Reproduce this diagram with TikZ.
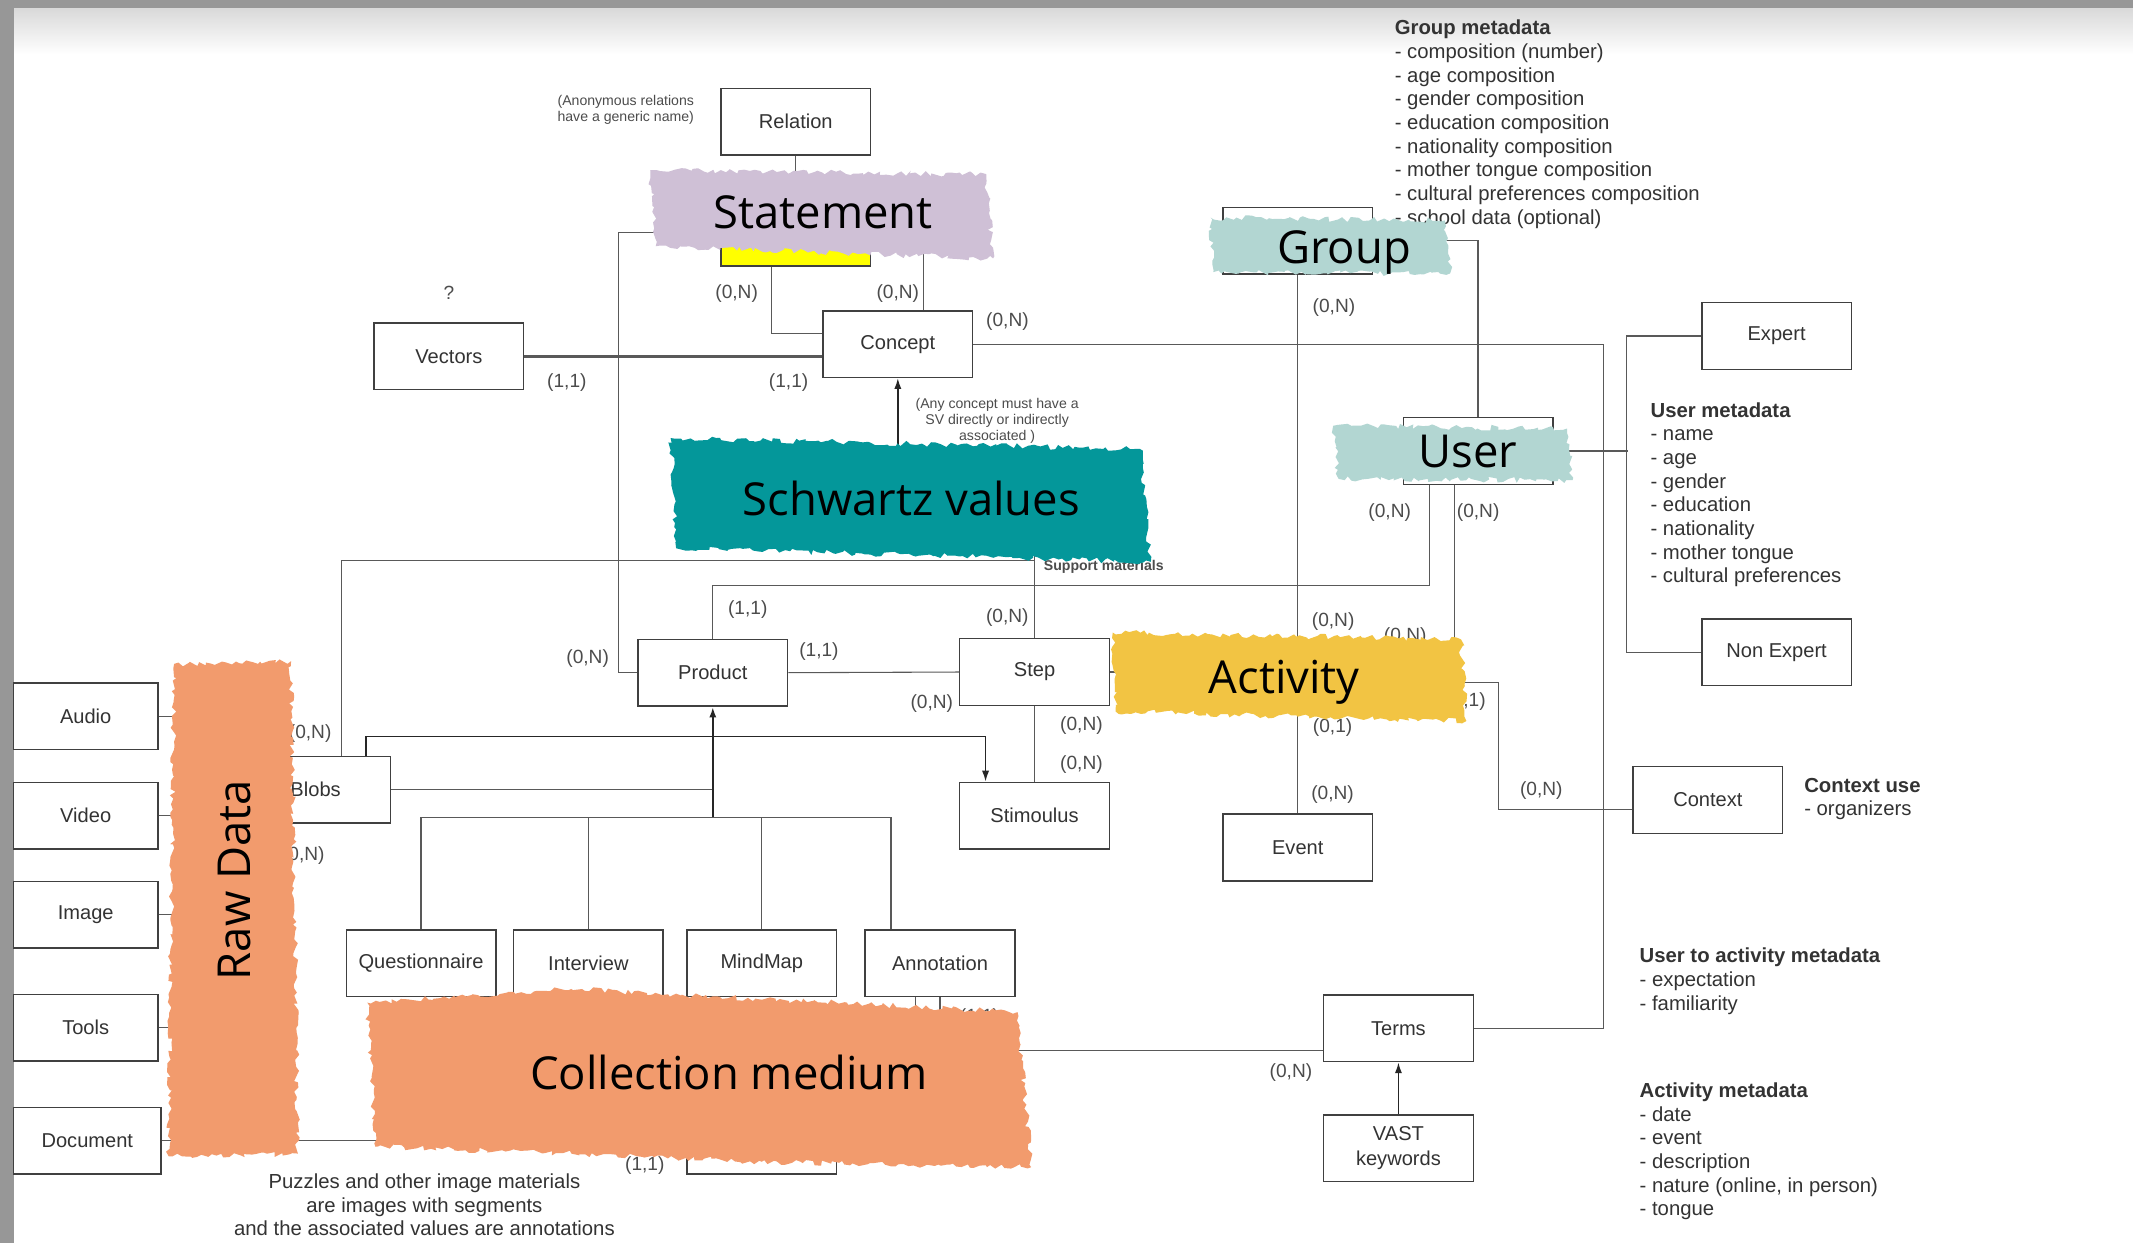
\documentclass[tikz,border=0pt]{standalone}
\usepackage{fontspec}
\setmainfont{Liberation Sans}
\newfontfamily\brushfont{Open Sans}
\usetikzlibrary{calc,arrows.meta,decorations.pathmorphing}

\definecolor{lavender}{HTML}{CFC0D6}
\definecolor{svteal}{HTML}{04979A}
\definecolor{mint}{HTML}{B2D6D2}
\definecolor{mustard}{HTML}{F2C443}
\definecolor{salmon}{HTML}{F29B6D}
\definecolor{frame}{HTML}{979797}
\definecolor{ink}{HTML}{333333}
\definecolor{hiyellow}{HTML}{FFFF00}

\newcommand{\boxfont}{\fontsize{8.4}{10.2}\selectfont}
\newcommand{\cardfont}{\fontsize{8}{9.6}\selectfont}
\newcommand{\metafont}{\fontsize{8.5}{9.9}\selectfont}
\newcommand{\notefont}{\fontsize{5.9}{6.6}\selectfont}
\newcommand{\paintfont}{\brushfont\fontsize{19}{21}\selectfont}

\pgfdeclarelayer{paint}
\pgfsetlayers{main,paint}

\tikzset{
  entity/.style={draw=black!75, line width=0.6pt, fill=white, minimum width=2.2cm,
    minimum height=0.98cm, inner sep=1pt, font=\boxfont, text=ink, align=center},
  link/.style={draw=black!65, line width=0.45pt},
  arrow/.style={draw=black!85, line width=0.6pt, -{Latex[length=4.5pt,width=3pt]}},
  card/.style={font=\cardfont, text=black!70, inner sep=0pt},
  meta/.style={anchor=north west, align=left, inner sep=0pt, font=\metafont, text=ink},
  note/.style={font=\notefont, text=black!70, align=center, inner sep=0pt},
  brush/.style={fill=#1, decorate, decoration={random steps, segment length=1.8pt, amplitude=1.2pt}},
  painttext/.style={font=\paintfont, text=black, inner sep=0pt, anchor=base},
}

\begin{document}
\begin{tikzpicture}[x=0.02cm, y=-0.02cm]
	\useasboundingbox (0,0) rectangle (1568,914);
	% Page with its grey frame
	\fill[white] (0,0) rectangle (1568,914);
	\shade[top color=black!15, bottom color=white] (10,6) rectangle (1568,40);
	\fill[frame] (0,0) rectangle (1568,6);
	\fill[frame] (0,0) rectangle (10.3,914);

	% Paint strokes over the diagram
	\begin{pgfonlayer}{paint}
		\pgfmathsetseed{11}
		\fill[brush=lavender] (478,125) -- (725,128) -- (730,190) -- (482,181) -- cycle;
		\node[painttext] (statement) at (605,167.8) {Statement};
		\fill[brush=svteal] (493,322) -- (838,330) -- (846,413) -- (497,403) -- cycle;
		\node[painttext] (schwartz) at (670,378.6) {Schwartz values};
		\fill[brush=mint] (890,160) -- (1062,162) -- (1066,201) -- (892,200) -- cycle;
		\node[painttext] (grouplbl) at (988,193.6) {Group};
		\fill[brush=mint] (980,313) -- (1152,315) -- (1156,353) -- (984,352) -- cycle;
		\node[painttext] (userlbl) at (1079,344) {User};
		\fill[brush=mustard] (818,465) -- (1074,470) -- (1078,530) -- (820,523) -- cycle;
		\node[painttext] (activity) at (944,509.7) {Activity};
		\fill[brush=salmon] (128,488) -- (214,486) -- (219,848) -- (124,850) -- cycle;
		\node[painttext, rotate=90] (rawdata) at (184,647) {Raw Data};
		\fill[brush=salmon] (270,737) -- (420,727) -- (748,744) -- (758,858) -- (560,854) -- (420,848) -- (276,843) -- cycle;
		\node[painttext] (collection) at (536,801) {Collection medium};
	\end{pgfonlayer}

	% Entities
	\node[entity] (relation) at (585,89.5) {Relation};
	\node[entity, fill=hiyellow] (stmtbox) at (585,171) {};
	\node[entity] (vectors) at (330,262) {Vectors};
	\node[entity] (concept) at (660,253) {Concept};
	\node[entity] (groupbox) at (954,177) {};
	\node[entity] (userbox) at (1086.5,331.5) {};
	\node[entity] (expert) at (1306,247) {Expert};
	\node[entity] (nonexpert) at (1306,479.5) {Non Expert};
	\node[entity] (product) at (524,494.5) {Product};
	\node[entity] (step) at (760.5,494) {Step};
	\node[entity] (stim) at (760.5,599.5) {Stimoulus};
	\node[entity] (blobs) at (232,580.5) {Blobs};
	\node[entity] (event) at (954,623) {Event};
	\node[entity] (context) at (1255.5,588) {Context};
	\node[entity] (terms) at (1028,756) {Terms};
	\node[entity] (vast) at (1028,844) {VAST\\keywords};
	\node[entity] (quest) at (309.5,708) {Questionnaire};
	\node[entity] (interview) at (432.5,708) {Interview};
	\node[entity] (mindmap) at (560,708) {MindMap};
	\node[entity] (annotation) at (691,708) {Annotation};
	\node[entity] (imgbox) at (560,838.5) {};
	\foreach \name/\y in {Audio/526.5, Video/599.5, Image/672.5, Tools/755.5} {
		\node[entity, minimum width=2.12cm] (\name) at (63,\y) {\name};
		\draw[link] (\name.east) -- ++(25,0);
	}
	\node[entity, minimum width=2.17cm] (Document) at (64.2,838.5) {Document};

	% Statement and concept links
	\draw[link] (relation) -- (stmtbox);
	\draw[link] (stmtbox.west) -- ++(-75,0) |- (product.west);
	\draw[link] ($(stmtbox.south)+(-18,0)$) |- ($(concept.west)+(0,-8)$);
	\draw[link] ($(concept.north)+(19,0)$) |- (stmtbox.east);
	\draw[link, line width=1pt] (vectors.east) -- (vectors.east -| concept.west);
	\draw[link] (concept.east) -| ($(terms.east)+(95,0)$) -- (terms.east);
	\draw[arrow] (concept.south |- schwartz.north) -- (concept.south);

	% Group, user and activity links
	\draw[link] (groupbox) -- (event);
	\draw[link] (groupbox.east) -| (userbox.north);
	\draw[link] ($(userbox.south)+(-36,0)$) |- ($(product.north)+(0,-39)$) -- (product.north);
	\draw[link] ($(userbox.south)+(-17,0)$) |- (activity.east);
	\draw[link] (activity.east) -- ++(102,0) |- ($(context.west)+(0,7)$);
	\draw[link] (userbox.east) -- ++(55,0);
	\draw[link] (expert.west) -- ++(-55,0) |- (nonexpert.west);

	% Product, step and blobs links
	\draw[link] (product.east) -- (step.west);
	\draw[link] (step.north) -- (step.north |- schwartz.south);
	\draw[link] (step.east) -- (step.east -| activity.west);
	\draw[link] (step) -- (stim);
	\draw[link] ($(blobs.north)+(19,0)$) |- ($(step.north)+(0,-57)$);
	\draw[arrow] ($(blobs.north)+(37,0)$) -- ++(0,-14) -| ($(stim.north)+(-36,0)$);
	\draw[link] (blobs.east) -- (blobs.east -| product.south);
	\coordinate (fork) at (524,601);
	\draw[arrow, line width=0.9pt] (fork) -- (product.south);
	\draw[link] (quest.north) |- ($(annotation.north)+(-36,-82)$) -- ($(annotation.north)+(-36,0)$);
	\foreach \m in {interview,mindmap}
		\draw[link] (\m.north) -- ++(0,-82);

	% Lower links
	\draw[link] (Document.east) -- (imgbox.west);
	\draw[link] (annotation.south) |- ($(terms.west)+(0,16)$);
	\draw[link] ($(annotation.south)+(-18,0)$) -- ++(0,45);
	\draw[arrow] (vast) -- (terms);

	% Cardinalities
	\foreach \x/\y/\a/\b [count=\i] in {541.5/215.5/0/N, 660/215.5/0/N, 740.6/236.5/0/N,
		416.7/281/1/1, 579.7/281/1/1, 980.6/226/0/N, 1021.6/377/0/N, 1086.6/377/0/N,
		549.7/448/1/1, 740.5/454/0/N, 432/484/0/N, 602/479/1/1, 685/517/0/N,
		980/457/0/N, 1033/468/0/N, 1077.7/516/0/1, 979.6/535/0/1, 795/533/0/N,
		795/562/0/N, 979.6/584/0/N, 1133/581/0/N, 228/539/0/N, 223/629/0/N,
		660/748/1/1, 720/748/1/1, 949/788.6/0/N, 474/856.5/1/1}
		\node[card] (card\i) at (\x,\y) {(\a,\b)};
	\node[card] (qmark) at (330,215.5) {?};

	% Notes
	\node[note] (anonnote) at (460,81) {(Anonymous relations\\have a generic name)};
	\node[note] (svnote) at (733,309.5) {(Any concept must have a\\SV directly or indirectly\\associated )};
	\node[note, font=\notefont\bfseries, anchor=west] (supmat) at (767,416.5) {Support materials};

	% Metadata lists
	\node[meta] (groupmeta) at (1025,14.5) {\textbf{Group metadata}\\- composition (number)\\- age composition\\- gender composition\\- education composition\\- nationality composition\\- mother tongue composition\\- cultural preferences composition\\- school data (optional)};
	\node[meta] (usermeta) at (1213,295.5) {\textbf{User metadata}\\- name\\- age\\- gender\\- education\\- nationality\\- mother tongue\\- cultural preferences};
	\node[meta] (contextmeta) at (1326,571.5) {\textbf{Context use}\\- organizers};
	\node[meta] (uameta) at (1205,696.5) {\textbf{User to activity metadata}\\- expectation\\- familiarity};
	\node[meta] (actmeta) at (1205,795.5) {\textbf{Activity metadata}\\- date\\- event\\- description\\- nature (online, in person)\\- tongue};
	\node[meta, anchor=north, align=center] (puzzlenote) at (312,862.5) {Puzzles and other image materials\\are images with segments\\and the associated values are annotations};
\end{tikzpicture}
\end{document}
